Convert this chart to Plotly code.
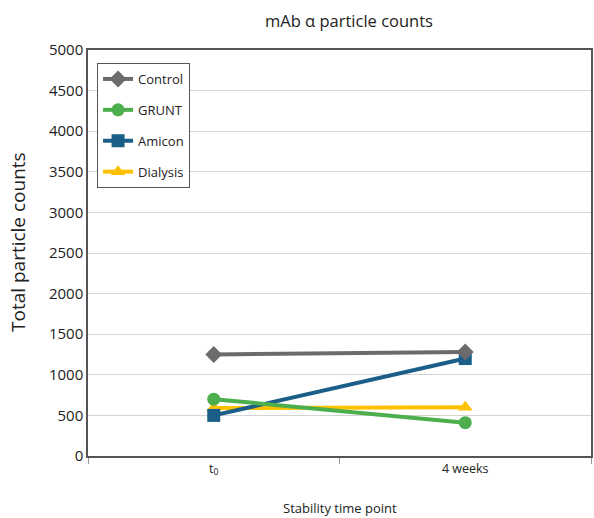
import plotly.graph_objects as go

# Stability time points (x categories)
time_points = ["t<sub>0</sub>", "4 weeks"]

# Total particle counts per sample preparation
control = [1250, 1280]
grunt = [700, 410]
amicon = [500, 1200]
dialysis = [590, 600]

series = [
    # name, values, colour, marker symbol, legend rank
    ("Dialysis", dialysis, "#ffc000", "triangle-up", 4),
    ("Amicon", amicon, "#1b5e88", "square", 3),
    ("GRUNT", grunt, "#4cae4c", "circle", 2),
    ("Control", control, "#6b6b6e", "diamond", 1),
]

font_family = "'Open Sans', 'Noto Sans', sans-serif"
text_colour = "#222222"

fig = go.Figure()
for name, values, colour, symbol, rank in series:
    fig.add_trace(go.Scatter(
        x=time_points,
        y=values,
        name=name,
        mode="lines+markers",
        line=dict(color=colour, width=4),
        marker=dict(symbol=symbol, size=13, color=colour),
        legendrank=rank,
        legendgroup=name,
    ))

fig.update_layout(
    width=594,
    height=518,
    margin=dict(l=88, r=1, t=50, b=62),
    paper_bgcolor="white",
    plot_bgcolor="white",
    font=dict(family=font_family, size=13, color=text_colour),
    showlegend=True,
    legend=dict(
        x=0.018, y=0.968, xanchor="left", yanchor="top",
        bordercolor="#555555", borderwidth=1, bgcolor="white",
        font=dict(size=13, color=text_colour),
        tracegroupgap=11,
        itemwidth=30,
    ),
    xaxis=dict(
        type="category",
        range=[-0.5, 1.5],
        showline=True, linecolor="#555555", linewidth=1.5, mirror=True,
        showgrid=False,
        ticks="outside", tickson="boundaries", ticklen=6, tickcolor="#999999",
        tickfont=dict(size=12.5, color=text_colour),
        zeroline=False,
    ),
    yaxis=dict(
        range=[0, 5000],
        dtick=500,
        showline=True, linecolor="#555555", linewidth=1.5, mirror=True,
        showgrid=True, gridcolor="#d4d4d4", gridwidth=1,
        ticks="", ticklen=0,
        tickfont=dict(size=15, color=text_colour),
        zeroline=False,
    ),
)

# Chart title
fig.add_annotation(
    text="mAb α particle counts", xref="paper", yref="paper",
    x=(350 - 88) / 505, y=1, yshift=30, xanchor="center", yanchor="middle",
    showarrow=False, font=dict(size=16.5, color=text_colour),
)

# Axis titles
fig.add_annotation(
    text="Stability time point", xref="paper", yref="paper",
    x=0.5, y=0, yshift=-52, xanchor="center", yanchor="middle",
    showarrow=False, font=dict(size=13, color=text_colour),
)
fig.add_annotation(
    text="Total particle counts", xref="paper", yref="paper",
    x=0, xshift=-70, y=(456 - 242) / 406, xanchor="center", yanchor="middle",
    textangle=-90, showarrow=False, font=dict(size=19, color=text_colour),
)

fig.write_html("out.html")
